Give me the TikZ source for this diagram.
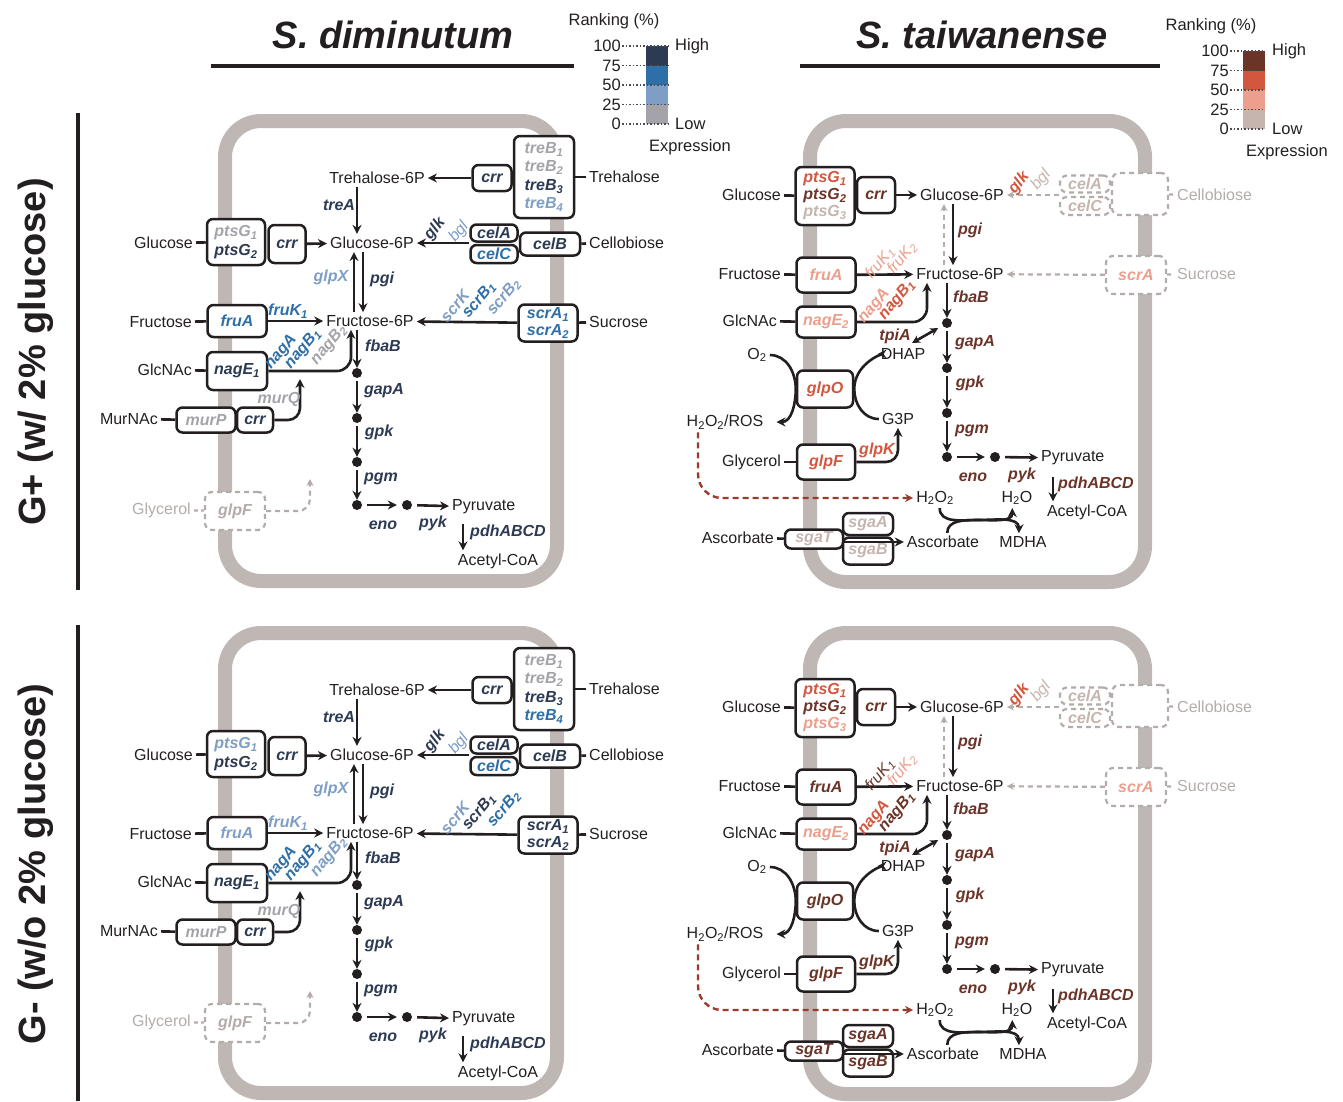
\documentclass[tikz,border=0pt]{standalone}
\usepackage{fontspec}
\setmainfont{Liberation Sans}
\usetikzlibrary{arrows.meta}

\definecolor{ink}{HTML}{231F20}
\definecolor{membrane}{HTML}{BFB7B4}
\definecolor{absent}{HTML}{B3ACAA}
\definecolor{rosred}{HTML}{9E3A2D}
% S. diminutum expression levels (high -> low)
\definecolor{dhi}{HTML}{2C3B53}
\definecolor{dmh}{HTML}{2F6FA7}
\definecolor{dml}{HTML}{7E9EC6}
\definecolor{dlo}{HTML}{A5A3AA}
% S. taiwanense expression levels (high -> low)
\definecolor{thi}{HTML}{6B3428}
\definecolor{tmh}{HTML}{D3573F}
\definecolor{tml}{HTML}{EC9F8C}
\definecolor{tlo}{HTML}{C6B5AF}

\tikzset{
  met/.style={font=\fontsize{16}{19}\selectfont, text=ink, inner sep=3pt},
  gene/.style={font=\fontsize{16}{18}\selectfont\bfseries\itshape, inner sep=0pt},
  lgene/.style={font=\fontsize{16}{18}\selectfont\itshape, inner sep=0pt},
  stack/.style={font=\fontsize{16}{#1}\selectfont\bfseries\itshape},
  gbox/.style={gene, draw=ink, fill=white, line width=2.5pt, rounded corners=6pt, align=center},
  nobox/.style={gene, draw=absent, fill=white, line width=2.2pt, dash pattern=on 5pt off 4pt,
                rounded corners=7pt, align=center},
  link/.style={draw=ink, line width=2.6pt},
  nolink/.style={draw=absent, line width=2.2pt, dash pattern=on 4pt off 3pt},
  arr/.style={draw=ink, line width=2.6pt, -{Stealth[length=9pt,width=9pt]}},
  noarr/.style={draw=absent, line width=2.2pt, dash pattern=on 5pt off 4pt, -{Stealth[length=7pt,width=7pt]}},
  rosarr/.style={draw=rosred, line width=2.4pt, dash pattern=on 6pt off 4pt, -{Stealth[length=8pt,width=8pt]}},
  dot/.style={circle, fill=ink, inner sep=0pt, minimum size=10pt},
  cell/.style={draw=membrane, line width=14pt, rounded corners=36pt},
  legtxt/.style={font=\fontsize{16.5}{16.5}\selectfont, text=ink, inner sep=1pt},
  tick/.style={draw=ink!80, line width=1.5pt, dotted},
  header/.style={font=\fontsize{38}{38}\selectfont\bfseries, text=ink}
}

% S. diminutum cell: #1 name prefix, #2 vertical offset, #3 gene colours
\newcommand\dimpanel[3]{%
\begin{scope}[shift={(0,#2)}, name prefix=#1-]
  #3
  \draw[cell] (225,121) rectangle (557,581);
  % metabolites
  \node[met] (t6p) at (377,178) {Trehalose-6P};
  \node[met] (g6p) at (372,243) {Glucose-6P};
  \node[met] (f6p) at (370,321) {Fructose-6P};
  \node[met, anchor=west] (treh) at (586,177) {Trehalose};
  \node[met, anchor=west] (cello) at (586,243) {Cellobiose};
  \node[met, anchor=west] (sucr) at (586,322) {Sucrose};
  \node[met, anchor=east] (glc) at (196,243) {Glucose};
  \node[met, anchor=east] (fru) at (195,322) {Fructose};
  \node[met, anchor=east] (glcnac) at (195,370) {GlcNAc};
  \node[met, anchor=east] (murnac) at (161,419) {MurNAc};
  \node[met, anchor=east, text=absent] (glyc) at (194,510) {Glycerol};
  \node[met, anchor=west] (pyr) at (449,507) {Pyruvate};
  \node[met] (acoa) at (498,561) {Acetyl-CoA};
  % transporters
  \node[gbox, minimum width=39, minimum height=26, text=ccrrT] (crrT) at (492,178) {crr};
  \node[gbox, stack=18.5, minimum width=60, minimum height=82] (treB) at (544,177)
    {\textcolor{ctreBa}{treB\textsubscript{1}}\\\textcolor{ctreBb}{treB\textsubscript{2}}\\
     \textcolor{ctreBc}{treB\textsubscript{3}}\\\textcolor{ctreBd}{treB\textsubscript{4}}};
  \node[gbox, stack=19, minimum width=58, minimum height=46] (ptsG) at (236,242)
    {\textcolor{cptsGa}{ptsG\textsubscript{1}}\\\textcolor{cptsGb}{ptsG\textsubscript{2}}};
  \node[gbox, minimum width=37, minimum height=38, text=ccrrG] (crrG) at (287,244) {crr};
  \node[gbox, minimum width=47, minimum height=17, text=ccelA] (celA) at (494,233) {celA};
  \node[gbox, minimum width=47, minimum height=18, text=ccelC] (celC) at (494,254) {celC};
  \node[gbox, minimum width=60, minimum height=23, text=ccelB] (celB) at (550,244) {celB};
  \node[gbox, minimum width=59, minimum height=32, text=cfruA] (fruA) at (237,321) {fruA};
  \node[gbox, stack=17, minimum width=59, minimum height=37] (scrA) at (548,323)
    {\textcolor{cscrAa}{scrA\textsubscript{1}}\\\textcolor{cscrAb}{scrA\textsubscript{2}}};
  \node[gbox, minimum width=60, minimum height=38, text=cnagE] (nagE) at (237,371) {nagE\textsubscript{1}};
  \node[gbox, minimum width=59, minimum height=25, text=cmurP] (murP) at (206,420) {murP};
  \node[gbox, minimum width=36, minimum height=25, text=ccrrM] (crrM) at (255,420) {crr};
  \node[nobox, minimum width=60, minimum height=38, text=absent] (glpF) at (235,511) {glpF};
  % glycolysis
  \foreach \y [count=\i] in {373,418,462,505}
    \node[dot] (d\i) at (357,\y) {};
  \node[dot] (d5) at (407,505) {};
  \coordinate (up) at (354,0);
  \coordinate (dn) at (363,0);
  \coordinate (nx) at (351,0);
  \coordinate (pd) at (463,0);
  \coordinate (mq) at (300,379);
  \coordinate (gq) at (310,479);
  % uptake
  \draw[link] (glc) -- (ptsG);
  \draw[link] (fru) -- (fruA);
  \draw[link] (glcnac) -- (nagE);
  \draw[link] (murnac) -- (murP);
  \draw[link] (treB) -- (treh);
  \draw[link] (celB) -- (cello);
  \draw[link] (scrA) -- (sucr);
  \draw[nolink] (glyc) -- (glpF);
  \draw[arr] (crrT) -- (t6p);
  \draw[arr] (crrG) -- (g6p);
  \draw[arr] (g6p -| celA.west) -- (g6p);
  \draw[arr] (scrA) -- (f6p);
  \draw[arr] (fruA) -- (f6p);
  \draw[arr] (t6p.south -| d1) -- (g6p.north -| d1);
  \draw[arr] (f6p.north -| up) -- (g6p.south -| up);
  \draw[arr] (g6p.south -| dn) -- (f6p.north -| dn);
  \draw[arr, rounded corners=14pt] (nagE) -| (f6p.south -| nx);
  \draw[arr, rounded corners=12pt] (crrM) -| (mq);
  \draw[noarr, rounded corners=12pt] (glpF) -| (gq);
  \draw[arr] (f6p.south -| d1) -- (d1);
  \foreach \i/\j in {1/2,2/3,3/4}
    \draw[arr, shorten <=3pt] (d\i) -- (d\j);
  \draw[arr, shorten <=5pt, shorten >=5pt] (d4) -- (d5);
  \draw[arr, shorten <=5pt] (d5) -- (pyr);
  \draw[arr, shorten <=7pt] (pyr.south -| pd) -- (acoa.north -| pd);
  % enzymes
  \node[gene, text=ctreA] (treA) at (339,205) {treA};
  \node[gene, rotate=50, text=cglk] (glk) at (435,229) {glk};
  \node[lgene, rotate=50, text=cbgl] (bgl) at (459,232) {bgl};
  \node[gene, text=cglpX] (glpX) at (331,277) {glpX};
  \node[gene, text=dhi] (pgi) at (382,279) {pgi};
  \node[gene, text=cfruK] (fruK) at (288,311) {fruK\textsubscript{1}};
  \node[gene, rotate=50, text=cscrK] (scrK) at (455,306) {scrK};
  \node[gene, rotate=50, text=cscrBa] (scrBa) at (479,300) {scrB\textsubscript{1}};
  \node[gene, rotate=50, text=cscrBb] (scrBb) at (504,297) {scrB\textsubscript{2}};
  \node[gene, rotate=50, text=cnagA] (nagA) at (281,352) {nagA};
  \node[gene, rotate=50, text=cnagBa] (nagBa) at (303,349) {nagB\textsubscript{1}};
  \node[gene, rotate=50, text=cnagBb] (nagBb) at (329,345) {nagB\textsubscript{2}};
  \node[gene, text=cmurQ] (murQ) at (279,399) {murQ};
  \node[gene, text=dhi] (fbaB) at (383,346) {fbaB};
  \node[gene, text=dhi] (gapA) at (384,391) {gapA};
  \node[gene, text=dhi] (gpk) at (379,432) {gpk};
  \node[gene, text=dhi] (pgm) at (381,479) {pgm};
  \node[gene, text=dhi] (eno) at (383,525) {eno};
  \node[gene, text=dhi] (pyk) at (433,523) {pyk};
  \node[gene, text=dhi] (pdh) at (508,532) {pdhABCD};
\end{scope}}

% S. taiwanense cell: #1 name prefix, #2 vertical offset, #3 gene colours
\newcommand\taipanel[3]{%
\begin{scope}[shift={(0,#2)}, name prefix=#1-]
  #3
  \draw[cell] (810,121) rectangle (1145,582);
  % metabolites
  \node[met] (g6p) at (962,195) {Glucose-6P};
  \node[met] (f6p) at (960,274) {Fructose-6P};
  \node[met, anchor=east] (glc) at (784,195) {Glucose};
  \node[met, anchor=east] (fru) at (784,274) {Fructose};
  \node[met, anchor=east] (glcnac) at (780,321) {GlcNAc};
  \node[met] (o2) at (757,355) {O\textsubscript{2}};
  \node[met] (ros) at (725,422) {H\textsubscript{2}O\textsubscript{2}/ROS};
  \node[met, anchor=east] (glyc) at (784,462) {Glycerol};
  \node[met, anchor=east] (asco) at (777,538) {Ascorbate};
  \node[met, anchor=west, text=absent] (cello) at (1174,195) {Cellobiose};
  \node[met, anchor=west, text=absent] (sucr) at (1174,274) {Sucrose};
  \node[met] (dhap) at (903,354) {DHAP};
  \node[met] (g3p) at (898,419) {G3P};
  \node[met, anchor=west] (pyr) at (1038,458) {Pyruvate};
  \node[met] (acoa) at (1087,512) {Acetyl-CoA};
  \node[met] (hperox) at (935,498) {H\textsubscript{2}O\textsubscript{2}};
  \node[met] (water) at (1017,498) {H\textsubscript{2}O};
  \node[met] (asci) at (943,542) {Ascorbate};
  \node[met] (mdha) at (1023,542) {MDHA};
  % transporters
  \node[gbox, stack=17, minimum width=59, minimum height=58] (ptsG) at (825,196)
    {\textcolor{cptsGa}{ptsG\textsubscript{1}}\\\textcolor{cptsGb}{ptsG\textsubscript{2}}\\
     \textcolor{cptsGc}{ptsG\textsubscript{3}}};
  \node[gbox, minimum width=38, minimum height=36, text=ccrr] (crr) at (876,195) {crr};
  \node[nobox, minimum width=50, minimum height=17, text=tlo] (celA) at (1085,184) {celA};
  \node[nobox, minimum width=50, minimum height=18, text=tlo] (celC) at (1085,206) {celC};
  \node[nobox, minimum width=56, minimum height=42] (celB) at (1140,194) {};
  \node[nobox, minimum width=60, minimum height=38, text=tml] (scrA) at (1136,275) {scrA};
  \node[gbox, minimum width=59, minimum height=35, text=cfruA] (fruA) at (826,275) {fruA};
  \node[gbox, minimum width=59, minimum height=31, text=cnagE] (nagE) at (826,322) {nagE\textsubscript{2}};
  \node[gbox, minimum width=56, minimum height=37, text=cglpO] (glpO) at (825,389) {glpO};
  \node[gbox, minimum width=58, minimum height=35, text=cglpF] (glpF) at (826,462) {glpF};
  \node[gbox, minimum width=58, minimum height=19, text=csgaT] (sgaT) at (814,539) {sgaT};
  \node[gbox, minimum width=50, minimum height=22, text=csgaA] (sgaA) at (868,524) {sgaA};
  \node[gbox, minimum width=50, minimum height=27, text=csgaB] (sgaB) at (868,551) {sgaB};
  % glycolysis
  \foreach \y [count=\i] in {323,368,413,457}
    \node[dot] (d\i) at (947,\y) {};
  \node[dot] (d5) at (995,457) {};
  \coordinate (up) at (944,0);
  \coordinate (dn) at (953,0);
  \coordinate (nx) at (927,0);
  \coordinate (pd) at (1053,0);
  \coordinate (rx) at (698,0);
  \coordinate (tp) at (912,343);
  \coordinate (react) at (978,520);
  % uptake
  \draw[link] (glc) -- (ptsG);
  \draw[link] (fru) -- (fruA);
  \draw[link] (glcnac) -- (nagE);
  \draw[link] (glyc) -- (glpF);
  \draw[link] (asco) -- (sgaT);
  \draw[nolink] (celB) -- (cello);
  \draw[nolink] (scrA) -- (sucr);
  \draw[arr] (crr) -- (g6p);
  \draw[noarr] (g6p -| celA.west) -- (g6p);
  \draw[noarr] (scrA) -- (f6p);
  \draw[arr] (fruA) -- (f6p);
  \draw[arr] (g6p.south -| dn) -- (f6p.north -| dn);
  \draw[noarr] (f6p.north -| up) -- (g6p.south -| up);
  \draw[arr, rounded corners=14pt] (nagE) -| (f6p.south -| nx);
  \draw[arr] (f6p.south -| d1) -- (d1);
  \foreach \i/\j in {1/2,2/3,3/4}
    \draw[arr, shorten <=3pt] (d\i) -- (d\j);
  \draw[arr, shorten <=5pt, shorten >=5pt] (d4) -- (d5);
  \draw[arr, shorten <=5pt] (d5) -- (pyr);
  \draw[arr, shorten <=9pt] (pyr.south -| pd) -- (acoa.north -| pd);
  \draw[arr, {Stealth[length=8pt,width=8pt]}-{Stealth[length=8pt,width=8pt]}, shorten >=5pt] (tp) -- (d1);
  % glycerol and ROS
  \draw[arr] (o2) to[out=0, in=90] (glpO.west) to[out=-90, in=0] ([xshift=10pt]ros.east);
  \draw[arr] (g3p) to[out=180, in=-90] (glpO.east) to[out=90, in=180] (dhap);
  \draw[arr, rounded corners=12pt] (glpF) -| (g3p);
  \draw[rosarr, rounded corners=24pt] (ros.south -| rx) |- (hperox);
  \draw[arr] (asci.west -| sgaT.east) -- (asci);
  \draw[arr] (hperox.-65) to[out=-90, in=180] (react) to[out=0, in=-90] (water.-115);
  \draw[arr] (asci.65) to[out=90, in=180] (react) to[out=0, in=90] (mdha.115);
  % enzymes
  \node[gene, rotate=50, text=cglk] (glk) at (1019,183) {glk};
  \node[lgene, rotate=50, text=tlo] (bgl) at (1041,180) {bgl};
  \node[gene, text=thi] (pgi) at (970,230) {pgi};
  \node[lgene, rotate=50, text=cfruKa] (fruKa) at (880,263) {fruK\textsubscript{1}};
  \node[lgene, rotate=50, text=cfruKb] (fruKb) at (902,258) {fruK\textsubscript{2}};
  \node[gene, rotate=50, text=cnagA] (nagA) at (874,306) {nagA};
  \node[gene, rotate=50, text=cnagB] (nagB) at (897,300) {nagB\textsubscript{1}};
  \node[gene, text=thi] (fbaB) at (971,297) {fbaB};
  \node[gene, text=thi] (tpiA) at (895,336) {tpiA};
  \node[gene, text=thi] (gapA) at (975,343) {gapA};
  \node[gene, text=thi] (gpk) at (970,383) {gpk};
  \node[gene, text=thi] (pgm) at (972,431) {pgm};
  \node[gene, text=thi] (eno) at (973,477) {eno};
  \node[gene, text=thi] (pyk) at (1022,475) {pyk};
  \node[gene, text=thi] (pdh) at (1096,484) {pdhABCD};
  \node[gene, text=cglpK] (glpK) at (877,450) {glpK};
\end{scope}}

% ranking legend: #1 prefix, #2,#3 bar corner, #4 gap to numbers, #5-#8 colours high -> low
\newcommand\rankbar[8]{%
\begin{scope}[shift={(#2,#3)}, name prefix=#1-]
  \fill[#5] (0,0) rectangle (22,19.5);
  \fill[#6] (0,19.5) rectangle (22,39);
  \fill[#7] (0,39) rectangle (22,58.5);
  \fill[#8] (0,58.5) rectangle (22,78);
  \foreach \v [count=\i from 0] in {100,75,50,25,0}{
    \node[legtxt, anchor=east] (n\i) at (-#4,\i*19.5) {\v};
    \draw[tick] (n\i.east) -- (22,\i*19.5);
  }
  \node[legtxt] (rank) at (-32,-25) {Ranking (\%)};
  \node[legtxt, anchor=west] (high) at (28,0) {High};
  \node[legtxt, anchor=west] (low) at (28,78) {Low};
  \node[legtxt, anchor=west] (expr) at (2,101) {Expression};
\end{scope}}

\begin{document}
\begin{tikzpicture}[x=1pt, y=-1pt]
  \useasboundingbox (0,0) rectangle (1343,1101);

  % headers
  \node[header, font=\fontsize{38}{38}\selectfont\bfseries\itshape] (tdim) at (393,35) {S. diminutum};
  \node[header, font=\fontsize{38}{38}\selectfont\bfseries\itshape] (ttai) at (982,35) {S. taiwanense};
  \draw[ink, line width=4pt] (211,66) -- (574,66);
  \draw[ink, line width=4pt] (800,66) -- (1160,66);
  \node[header, rotate=90] (gplus) at (36,352) {G+ (w/ 2\% glucose)};
  \node[header, rotate=90] (gminus) at (36,864) {G- (w/o 2\% glucose)};
  \draw[ink, line width=3.5pt] (78,113) -- (78,590);
  \draw[ink, line width=3.5pt] (78,625) -- (78,1101);

  \rankbar{ld}{646}{46}{24}{dhi}{dmh}{dml}{dlo}
  \rankbar{lt}{1243}{51}{13}{thi}{tmh}{tml}{tlo}

  % G+ , S. diminutum
  \dimpanel{a}{0}{%
    \colorlet{ctreBa}{dlo}\colorlet{ctreBb}{dlo}\colorlet{ctreBc}{dhi}\colorlet{ctreBd}{dml}%
    \colorlet{ccrrT}{dhi}\colorlet{ctreA}{dhi}\colorlet{cptsGa}{dlo}\colorlet{cptsGb}{dhi}%
    \colorlet{ccrrG}{dhi}\colorlet{cglk}{dhi}\colorlet{cbgl}{dml}\colorlet{ccelA}{dhi}%
    \colorlet{ccelC}{dmh}\colorlet{ccelB}{dhi}\colorlet{cglpX}{dml}\colorlet{cscrK}{dml}%
    \colorlet{cscrBa}{dmh}\colorlet{cscrBb}{dml}\colorlet{cscrAa}{dmh}\colorlet{cscrAb}{dmh}%
    \colorlet{cfruA}{dmh}\colorlet{cfruK}{dmh}\colorlet{cnagA}{dmh}\colorlet{cnagBa}{dmh}%
    \colorlet{cnagBb}{dlo}\colorlet{cnagE}{dhi}\colorlet{cmurQ}{dlo}\colorlet{cmurP}{dlo}%
    \colorlet{ccrrM}{dhi}}

  % G- , S. diminutum
  \dimpanel{c}{512}{%
    \colorlet{ctreBa}{dlo}\colorlet{ctreBb}{dlo}\colorlet{ctreBc}{dhi}\colorlet{ctreBd}{dmh}%
    \colorlet{ccrrT}{dhi}\colorlet{ctreA}{dhi}\colorlet{cptsGa}{dml}\colorlet{cptsGb}{dhi}%
    \colorlet{ccrrG}{dhi}\colorlet{cglk}{dhi}\colorlet{cbgl}{dml}\colorlet{ccelA}{dhi}%
    \colorlet{ccelC}{dmh}\colorlet{ccelB}{dhi}\colorlet{cglpX}{dml}\colorlet{cscrK}{dml}%
    \colorlet{cscrBa}{dhi}\colorlet{cscrBb}{dmh}\colorlet{cscrAa}{dhi}\colorlet{cscrAb}{dhi}%
    \colorlet{cfruA}{dml}\colorlet{cfruK}{dml}\colorlet{cnagA}{dmh}\colorlet{cnagBa}{dmh}%
    \colorlet{cnagBb}{dml}\colorlet{cnagE}{dhi}\colorlet{cmurQ}{dlo}\colorlet{cmurP}{dlo}%
    \colorlet{ccrrM}{dhi}}

  % G+ , S. taiwanense
  \taipanel{b}{0}{%
    \colorlet{cptsGa}{tmh}\colorlet{cptsGb}{thi}\colorlet{cptsGc}{tlo}\colorlet{ccrr}{thi}%
    \colorlet{cglk}{tmh}\colorlet{cfruA}{tml}\colorlet{cfruKa}{tml}\colorlet{cfruKb}{tml}%
    \colorlet{cnagA}{tml}\colorlet{cnagB}{tmh}\colorlet{cnagE}{tml}\colorlet{cglpO}{tmh}%
    \colorlet{cglpF}{tmh}\colorlet{cglpK}{tmh}\colorlet{csgaT}{tlo}\colorlet{csgaA}{tlo}%
    \colorlet{csgaB}{tlo}}

  % G- , S. taiwanense
  \taipanel{d}{512}{%
    \colorlet{cptsGa}{tmh}\colorlet{cptsGb}{thi}\colorlet{cptsGc}{tml}\colorlet{ccrr}{thi}%
    \colorlet{cglk}{tmh}\colorlet{cfruA}{thi}\colorlet{cfruKa}{thi}\colorlet{cfruKb}{tml}%
    \colorlet{cnagA}{tmh}\colorlet{cnagB}{thi}\colorlet{cnagE}{tml}\colorlet{cglpO}{thi}%
    \colorlet{cglpF}{thi}\colorlet{cglpK}{thi}\colorlet{csgaT}{thi}\colorlet{csgaA}{thi}%
    \colorlet{csgaB}{thi}}
\end{tikzpicture}
\end{document}
